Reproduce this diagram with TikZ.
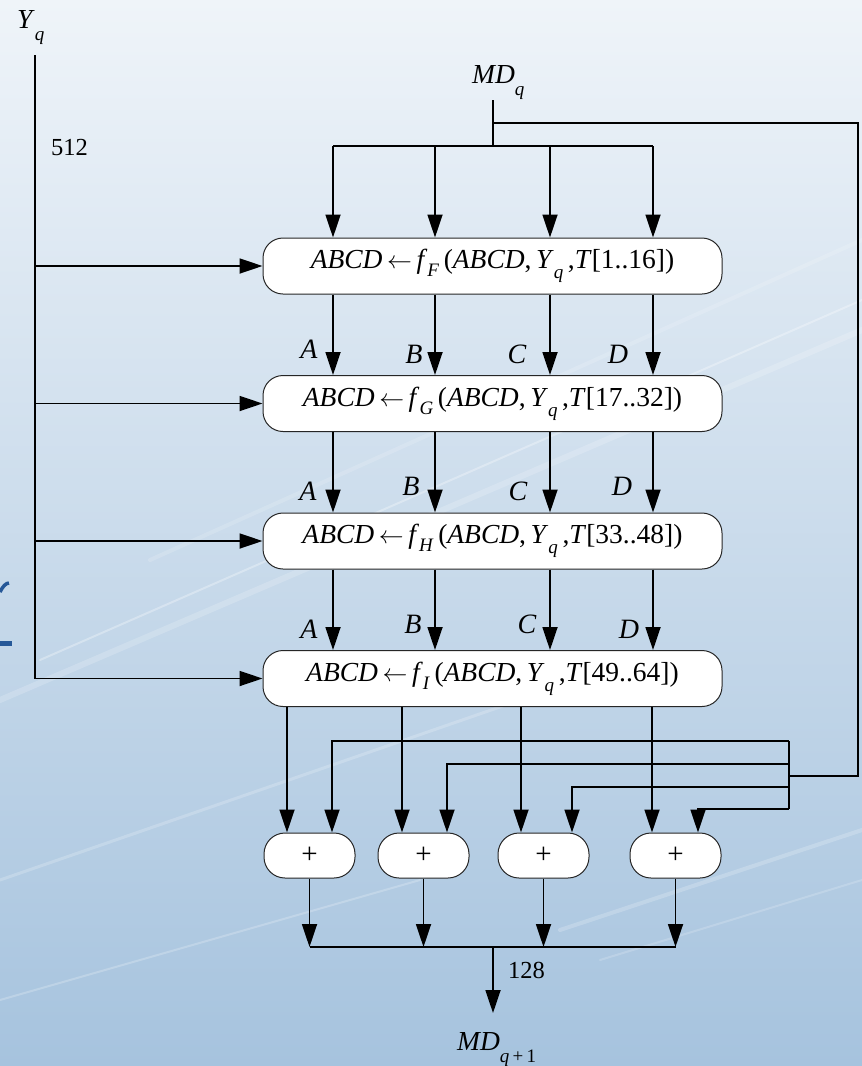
\documentclass[tikz,border=0pt]{standalone}
\usepackage{fontspec}
\setmainfont{Liberation Serif}
\usetikzlibrary{arrows.meta}

\definecolor{bgtop}{RGB}{239,244,249}
\definecolor{bgmid}{RGB}{214,227,239}
\definecolor{bgbot}{RGB}{166,195,222}
\definecolor{slideblue}{RGB}{38,88,152}

% lowered italic subscripts
\newcommand\lowsub[2]{\raisebox{-#1pt}{\fontsize{19}{19}\selectfont\textit{#2}}}
% one round of the compression function
\newcommand\roundtext[2]{\textit{ABCD}\,$\leftarrow$\,\textit{f}\lowsub{8}{#1}\,(\textit{ABCD},\,\textit{Y}\lowsub{10}{q}\,,\textit{T}[#2])}

\begin{document}
\begin{tikzpicture}[x=1pt,y=-1pt,
  every node/.style={inner sep=0pt, font=\fontsize{27.5}{32}\selectfont},
  roundbox/.style={draw=black!85, line width=1pt, fill=white, rounded corners=20pt,
                   minimum width=459pt, minimum height=56pt},
  adder/.style={draw=black!85, line width=1pt, fill=white, rounded corners=21pt,
                minimum width=91pt, minimum height=45pt, font=\fontsize{29}{29}\selectfont},
  wire/.style={line width=1.8pt, line join=miter},
  arr/.style={wire, -{Triangle[length=23pt,width=15pt]}},
  lbl/.style={anchor=base, font=\fontsize{28}{32}\selectfont\itshape},
  num/.style={anchor=base west, font=\fontsize{24.5}{28}\selectfont}]

% background
\useasboundingbox (0,0) rectangle (862,1066);
\shade[top color=bgtop, middle color=bgmid, bottom color=bgbot] (0,0) rectangle (862,1066);
\begin{scope}[white, line cap=round]
  \draw[opacity=0.18, line width=6pt] (0,700) -- (862,330);
  \draw[opacity=0.30, line width=2pt] (40,660) -- (862,300);
  \draw[opacity=0.15, line width=4pt] (150,560) -- (862,240);
  \draw[opacity=0.20, line width=3pt] (0,880) -- (520,700);
  \draw[opacity=0.22, line width=2pt] (0,1000) -- (420,880);
  \draw[opacity=0.20, line width=4pt] (560,930) -- (862,830);
  \draw[opacity=0.18, line width=2pt] (600,960) -- (862,880);
\end{scope}
% fragments of lettering at the left edge
\draw[slideblue, line width=3.5pt] (0,592) .. controls (3,586) and (6,583) .. (9,583);
\fill[slideblue] (0,641) rectangle (12,646);

% round boxes
\node[roundbox] (F) at (492.5,266)   {\roundtext{F}{1..16}};
\node[roundbox] (G) at (492.5,403.5) {\roundtext{G}{17..32}};
\node[roundbox] (H) at (492.5,541)   {\roundtext{H}{33..48}};
\node[roundbox] (I) at (492.5,678.5) {\roundtext{I}{49..64}};

% adders
\node[adder] (P1) at (309.5,855.5) {+};
\node[adder] (P2) at (423.5,855.5) {+};
\node[adder] (P3) at (543.5,855.5) {+};
\node[adder] (P4) at (675.5,855.5) {+};

% columns of the A B C D words
\coordinate (xa) at (333,0);
\coordinate (xb) at (435,0);
\coordinate (xc) at (550,0);
\coordinate (xd) at (653,0);

% chaining input MD_q
\node[anchor=base west] (mdq) at (472,83) {\textit{MD}\lowsub{12}{q}};
\coordinate (mdtop) at (493,100);
\coordinate (fb) at (493,123);
\coordinate (split) at (493,146);
\draw[wire] (mdtop) -- (split);
\draw[wire] (split -| xa) -- (split -| xd);
\foreach \c in {xa,xb,xc,xd}
  \draw[arr] (split -| \c) -- (F.north -| \c);

% words passed between rounds
\foreach \u/\v in {F/G,G/H,H/I}
  \foreach \c in {xa,xb,xc,xd}
    \draw[arr] (\u.south -| \c) -- (\v.north -| \c);

\node[lbl] (a1) at (309,358) {A};
\node[lbl] (b1) at (414,363) {B};
\node[lbl] (c1) at (517,363) {C};
\node[lbl] (d1) at (618,363) {D};
\node[lbl] (a2) at (308,500) {A};
\node[lbl] (b2) at (411,495) {B};
\node[lbl] (c2) at (518,500) {C};
\node[lbl] (d2) at (622,495) {D};
\node[lbl] (a3) at (309,638) {A};
\node[lbl] (b3) at (413,633) {B};
\node[lbl] (c3) at (527,633) {C};
\node[lbl] (d3) at (629,638) {D};

% message block Y_q
\node[anchor=base west] (yq) at (17,28) {\textit{Y}\lowsub{12}{q}};
\node[num] (n512) at (51,155) {512};
\coordinate (ytop) at (35,55);
\draw[wire] (ytop) -- (ytop |- I.west);
\foreach \b in {F,G,H,I}
  \draw[arr] (ytop |- \b.west) -- (\b.west);

% outputs of the last round into the adders
\coordinate (o1) at (287,0);
\coordinate (o2) at (402,0);
\coordinate (o3) at (521,0);
\coordinate (o4) at (652,0);
\draw[arr] (I.south -| o1) -- (P1.north -| o1);
\draw[arr] (I.south -| o2) -- (P2.north -| o2);
\draw[arr] (I.south -| o3) -- (P3.north -| o3);
\draw[arr] (I.south -| o4) -- (P4.north -| o4);

% feed-forward of MD_q
\coordinate (fbx) at (858,0);
\coordinate (bus) at (789,776);
\coordinate (r1) at (332,741);
\coordinate (r2) at (447,764);
\coordinate (r3) at (572,787);
\coordinate (r4) at (698,809);
\draw[wire] (fb) -- (fb -| fbx) -- (fbx |- bus) -- (bus);
\draw[wire] (r1 -| bus) -- (r4 -| bus);
\draw[arr] (r1 -| bus) -- (r1) -- (P1.north -| r1);
\draw[arr] (r2 -| bus) -- (r2) -- (P2.north -| r2);
\draw[arr] (r3 -| bus) -- (r3) -- (P3.north -| r3);
\draw[arr] (r4 -| bus) -- (r4) -- (P4.north -| r4);

% output MD_{q+1}
\coordinate (outbus) at (493,947);
\coordinate (outtip) at (493,1013);
\foreach \p in {P1,P2,P3,P4}
  \draw[arr] (\p.south) -- (\p.south |- outbus);
\draw[wire] (P1.south |- outbus) -- (P4.south |- outbus);
\draw[arr] (outbus) -- (outtip);
\node[num] (n128) at (508,978) {128};
\node[anchor=base west] (mdq1) at (457,1050)
  {\textit{MD}\raisebox{-12pt}{\fontsize{19}{19}\selectfont\textit{q}\,+\,1}};

\end{tikzpicture}
\end{document}
